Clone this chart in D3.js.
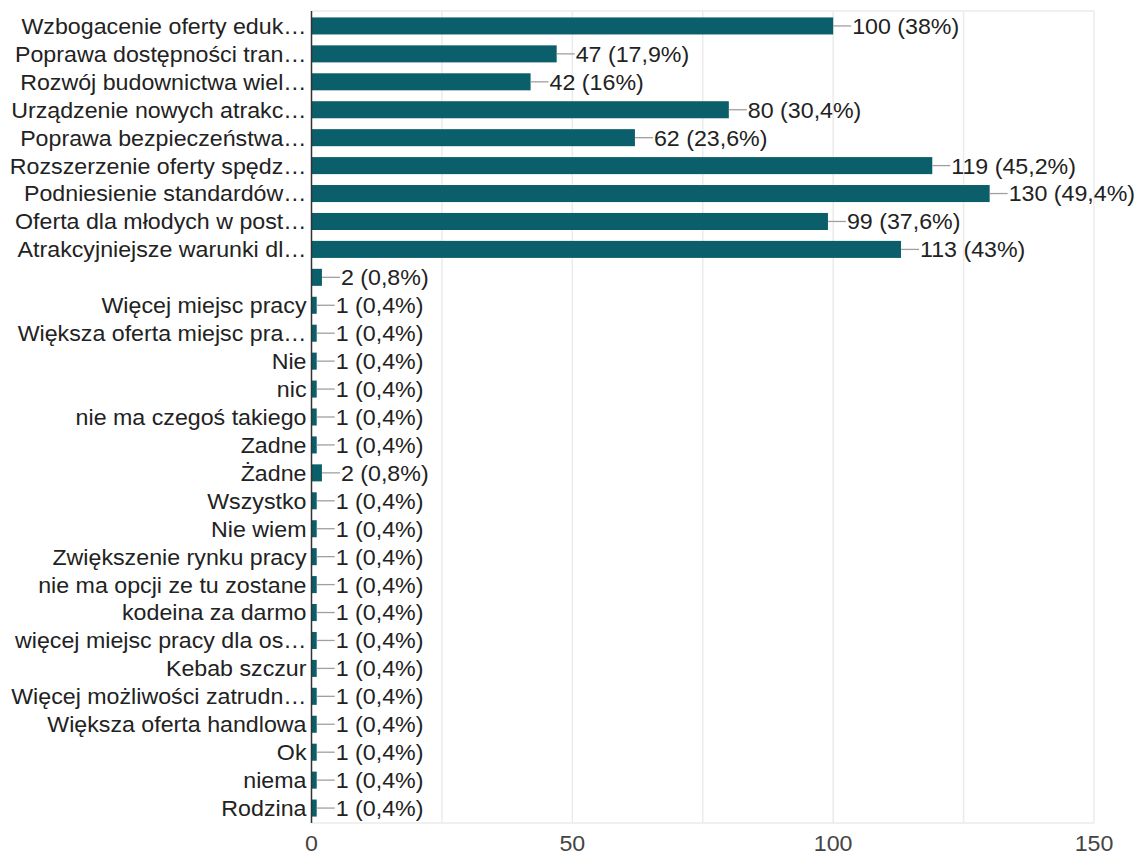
<!DOCTYPE html>
<html>
<head>
<meta charset="utf-8">
<script src="https://cdn.jsdelivr.net/npm/d3@7"></script>
<style>
html,body{margin:0;padding:0;background:#fff;}
svg{display:block;}
text{font-family:"Liberation Sans",Arial,sans-serif;}
</style>
</head>
<body>
<svg id="chart" width="1139" height="857"></svg>
<script>
const categories = [
  "Wzbogacenie oferty eduk…",
  "Poprawa dostępności tran…",
  "Rozwój budownictwa wiel…",
  "Urządzenie nowych atrakc…",
  "Poprawa bezpieczeństwa…",
  "Rozszerzenie oferty spędz…",
  "Podniesienie standardów…",
  "Oferta dla młodych w post…",
  "Atrakcyjniejsze warunki dl…",
  "",
  "Więcej miejsc pracy",
  "Większa oferta miejsc pra…",
  "Nie",
  "nic",
  "nie ma czegoś takiego",
  "Zadne",
  "Żadne",
  "Wszystko",
  "Nie wiem",
  "Zwiększenie rynku pracy",
  "nie ma opcji ze tu zostane",
  "kodeina za darmo",
  "więcej miejsc pracy dla os…",
  "Kebab szczur",
  "Więcej możliwości zatrudn…",
  "Większa oferta handlowa",
  "Ok",
  "niema",
  "Rodzina"
];
const values = [100,47,42,80,62,119,130,99,113,2,1,1,1,1,1,1,2,1,1,1,1,1,1,1,1,1,1,1,1];
const percents = ["38%","17,9%","16%","30,4%","23,6%","45,2%","49,4%","37,6%","43%","0,8%",
  "0,4%","0,4%","0,4%","0,4%","0,4%","0,4%","0,8%","0,4%","0,4%","0,4%","0,4%","0,4%","0,4%",
  "0,4%","0,4%","0,4%","0,4%","0,4%","0,4%"];
const tickValues = [0,50,100,150];
const gridValues = [25,50,75,100,125,150];

(function(){
const svg = d3.select("#chart");
const pL = 311.5, pR = 1094, pT = 11, pB = 823;
const fs = 22;
const sx = 1.055;

const x = d3.scaleLinear().domain([0,150]).range([pL,pR]);
const y = d3.scaleBand().domain(d3.range(categories.length)).range([pT,pB])
  .paddingInner(0.39).paddingOuter(0.23);

// grid
svg.append("g").selectAll("line").data(gridValues).join("line")
  .attr("x1",d=>x(d)).attr("x2",d=>x(d)).attr("y1",pT).attr("y2",pB)
  .attr("stroke","#ebebeb").attr("stroke-width",1.5);
svg.append("line").attr("x1",pL).attr("x2",pR).attr("y1",pT).attr("y2",pT)
  .attr("stroke","#ebebeb").attr("stroke-width",1.5);
svg.append("line").attr("x1",pL).attr("x2",pR).attr("y1",pB).attr("y2",pB)
  .attr("stroke","#ebebeb").attr("stroke-width",1.5);

// bars
svg.append("g").selectAll("rect").data(values).join("rect")
  .attr("x",x(0)).attr("y",(d,i)=>y(i))
  .attr("width",d=>x(d)-x(0)).attr("height",y.bandwidth())
  .attr("fill","#0b5f6b");

// leader lines
svg.append("g").selectAll("line").data(values).join("line")
  .attr("x1",d=>x(d)).attr("x2",d=>x(d)+18)
  .attr("y1",(d,i)=>y(i)+y.bandwidth()/2).attr("y2",(d,i)=>y(i)+y.bandwidth()/2)
  .attr("stroke","#a0a0a0").attr("stroke-width",1.3);

// value labels
svg.append("g").selectAll("text").data(values).join("text")
  .attr("transform",(d,i)=>`translate(${x(d)+19},${y(i)+y.bandwidth()/2}) scale(${sx},1)`)
  .attr("dy","0.36em").attr("font-size",fs).attr("fill","#222")
  .text((d,i)=>d+" ("+percents[i]+")");

// category labels
svg.append("g").selectAll("text").data(categories).join("text")
  .attr("transform",(d,i)=>`translate(${pL-5},${y(i)+y.bandwidth()/2}) scale(${sx},1)`)
  .attr("dy","0.36em").attr("text-anchor","end").attr("font-size",fs).attr("fill","#222")
  .text(d=>d);

// zero axis line
svg.append("line").attr("x1",x(0)).attr("x2",x(0)).attr("y1",pT).attr("y2",pB)
  .attr("stroke","#333").attr("stroke-width",1.5);

// x tick labels
svg.append("g").selectAll("text").data(tickValues).join("text")
  .attr("transform",d=>`translate(${x(d)},843) scale(${sx},1)`)
  .attr("dy","0.36em")
  .attr("text-anchor","middle").attr("font-size",fs).attr("fill","#444")
  .text(d=>d);
})();
</script>
</body>
</html>
